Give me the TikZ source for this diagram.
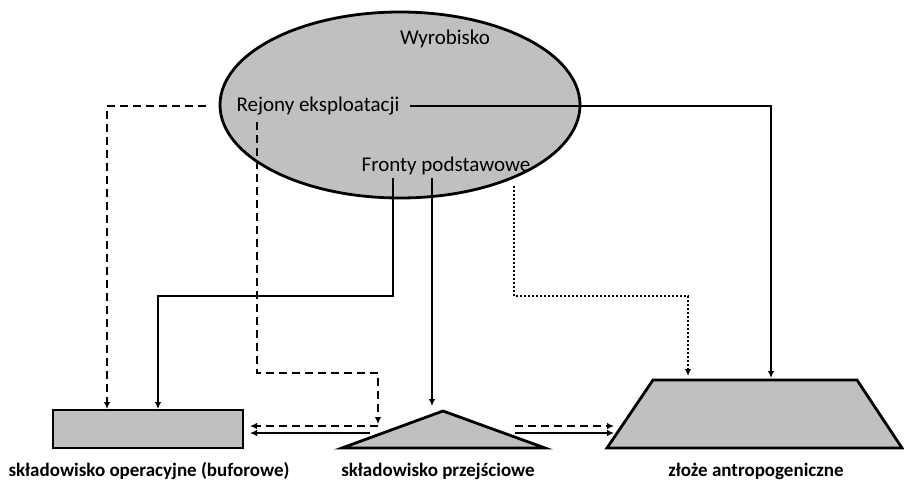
\documentclass[tikz,border=0pt]{standalone}
\usepackage{fontspec}
\setmainfont{Carlito}
\usetikzlibrary{arrows.meta,shapes.geometric}
\definecolor{shapegray}{HTML}{C0C0C0}
\begin{document}
\begin{tikzpicture}[x=1pt,y=-1pt,
  shapeline/.style={draw=black,line width=2.8pt,fill=shapegray,line join=miter},
  conn/.style={line width=1.9pt,-{Latex[length=7pt,width=6.5pt]}},
  dashconn/.style={conn,dash pattern=on 8pt off 5pt},
  dotconn/.style={conn,dash pattern=on 2pt off 2pt},
  inner/.style={font=\fontsize{21}{24}\selectfont,inner sep=1pt},
  lbl/.style={font=\bfseries\fontsize{19}{22}\selectfont,inner sep=1pt}]
\useasboundingbox (0,0) rectangle (904,489);
\fill[white] (0,0) rectangle (904,489);
% ellipse
\node[shapeline,ellipse,minimum width=360pt,minimum height=186pt,inner sep=0pt] (wyr) at (400,105) {};
\node[inner] (wyrt) at (445,39) {Wyrobisko};
\node[inner] (rej) at (318,106) {Rejony eksploatacji};
\node[inner] (fro) at (446,166) {Fronty podstawowe};
% bottom shapes
\node[shapeline,rectangle,minimum width=190pt,minimum height=38pt,inner sep=0pt] (buf) at (148,429) {};
\draw[shapeline] (342,448) -- (443,411) -- (545,448) -- cycle;
\draw[shapeline] (653,380) -- (857,380) -- (902,448) -- (607,448) -- cycle;
% named anchor coordinates
\coordinate (rejR) at (410,106);
\coordinate (rejL) at (206,106);
\coordinate (rejD) at (257,122);
\coordinate (froA) at (393,178);
\coordinate (froB) at (432,178);
\coordinate (froC) at (514,186);
\coordinate (bufT1) at (107,409);
\coordinate (bufT2) at (158,409);
\coordinate (bufR1) at (250,426);
\coordinate (bufR2) at (250,433);
\coordinate (triT) at (432,406);
\coordinate (triN) at (378,424);
\coordinate (triL1) at (378,426);
\coordinate (triL2) at (370,433);
\coordinate (triR1) at (515,426);
\coordinate (triR2) at (515,433);
\coordinate (anT1) at (688,376);
\coordinate (anT2) at (771,378);
\coordinate (anL1) at (614,426);
\coordinate (anL2) at (614,433);
% connectors
\draw[conn] (rejR) -| (anT2);
\draw[dashconn] (rejL) -| (bufT1);
\draw[dashconn] (rejD) |- (378,373) -- (triN);
\draw[conn] (froA) |- (158,296) -- (bufT2);
\draw[conn] (froB) -- (triT);
\draw[dotconn] (froC) |- (688,296) -- (anT1);
\draw[dashconn] (triL1) -- (bufR1);
\draw[conn] (triL2) -- (bufR2);
\draw[dashconn] (triR1) -- (anL1);
\draw[conn] (triR2) -- (anL2);
% labels
\node[lbl] (lbuf) at (149,471) {składowisko operacyjne (buforowe)};
\node[lbl] (ltri) at (438,471) {składowisko przejściowe};
\node[lbl] (lant) at (756,471) {złoże antropogeniczne};
\end{tikzpicture}
\end{document}
